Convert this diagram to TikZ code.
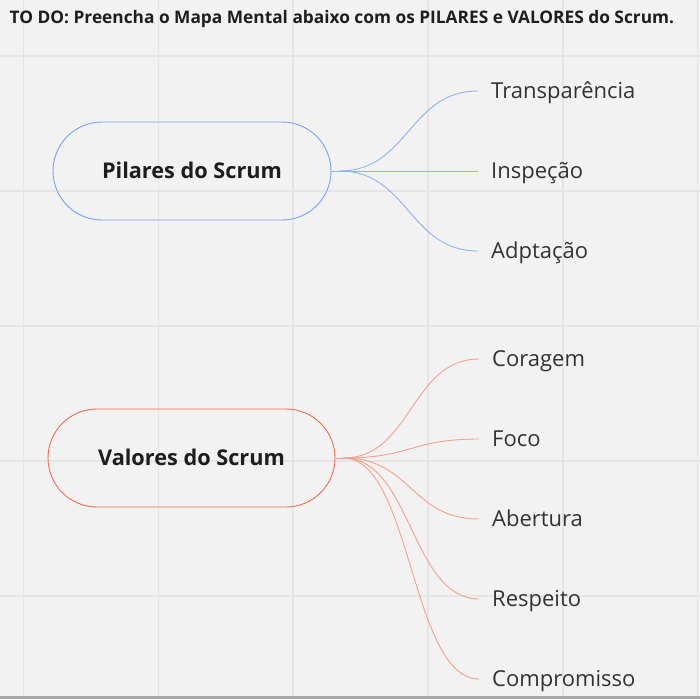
\documentclass[tikz,border=0pt]{standalone}
\usepackage{fontspec}
\setmainfont{Open Sans}
\definecolor{bg}{HTML}{F2F2F2}
\definecolor{gridc}{HTML}{E5E5E5}
\definecolor{barc}{HTML}{A6A6A6}
\definecolor{blueb}{HTML}{74A2F6}
\definecolor{bluel}{HTML}{8DB3F7}
\definecolor{redb}{HTML}{F06A4E}
\definecolor{redl}{HTML}{F6A08C}
\definecolor{txt}{HTML}{333333}
\definecolor{txtb}{HTML}{1E1E1E}
\tikzset{
  pill/.style={draw, line width=0.9pt, rounded corners=49pt, minimum height=98pt,
    font=\fontsize{21.7}{26}\selectfont\bfseries, text=txtb, text height=15.5pt, text depth=0pt, inner ysep=0pt},
  leaf/.style={anchor=west, inner xsep=13pt, inner ysep=0pt, text height=15.7pt, text depth=0pt,
    font=\fontsize{22}{26}\selectfont, text=txt},
  bluecon/.style={draw=bluel, line width=0.9pt},
  redcon/.style={draw=redl, line width=0.9pt},
  gridline/.style={draw=gridc, line width=1.2pt}
}
\begin{document}
\begin{tikzpicture}[x=1pt,y=-1pt]
\fill[bg] (0,0) rectangle (700,699);
\useasboundingbox (0,0) rectangle (700,699);
% grid
\foreach \gx in {23.5,158.5,293,428,563,697.5} {\draw[gridline] (\gx,0) -- (\gx,699);}
\foreach \gy in {56,191,326,461,596} {\draw[gridline] (0,\gy) -- (700,\gy);}
\fill[barc] (0,695.5) rectangle (700,699);
% title
\node[anchor=west, inner sep=0pt, text height=12.3pt, text depth=0pt, text=txtb,
  font=\fontsize{17.3}{20}\selectfont\bfseries] (title) at (9.5,17)
  {TO DO: Preencha o Mapa Mental abaixo com os PILARES e VALORES do Scrum.};
% Pilares
\node[pill, draw=blueb, minimum width=278pt] (pil) at (192,171) {Pilares do Scrum};
\coordinate (phub) at ([xshift=8pt]pil.east);
\draw[bluecon] (pil.east) -- (phub);
\node[leaf] (t1) at (478,91) {Transparência};
\node[leaf] (t2) at (478,171) {Inspeção};
\node[leaf] (t3) at (478,251) {Adptação};
\foreach \t in {t1,t2,t3} {\draw[bluecon] (phub) .. controls +(69,0) and +(-69,0) .. (\t.west);}
% Valores
\node[pill, draw=redb, minimum width=287pt] (val) at (191.5,458) {Valores do Scrum};
\coordinate (vhub) at ([xshift=8pt]val.east);
\draw[redcon] (val.east) -- (vhub);
\node[leaf] (v1) at (479,359) {Coragem};
\node[leaf] (v2) at (479,439) {Foco};
\node[leaf] (v3) at (479,519) {Abertura};
\node[leaf] (v4) at (479,599) {Respeito};
\node[leaf] (v5) at (479,679) {Compromisso};
\foreach \t in {v1,v2,v3,v4,v5} {\draw[redcon] (vhub) .. controls +(68,0) and +(-68,0) .. (\t.west);}
\end{tikzpicture}
\end{document}
